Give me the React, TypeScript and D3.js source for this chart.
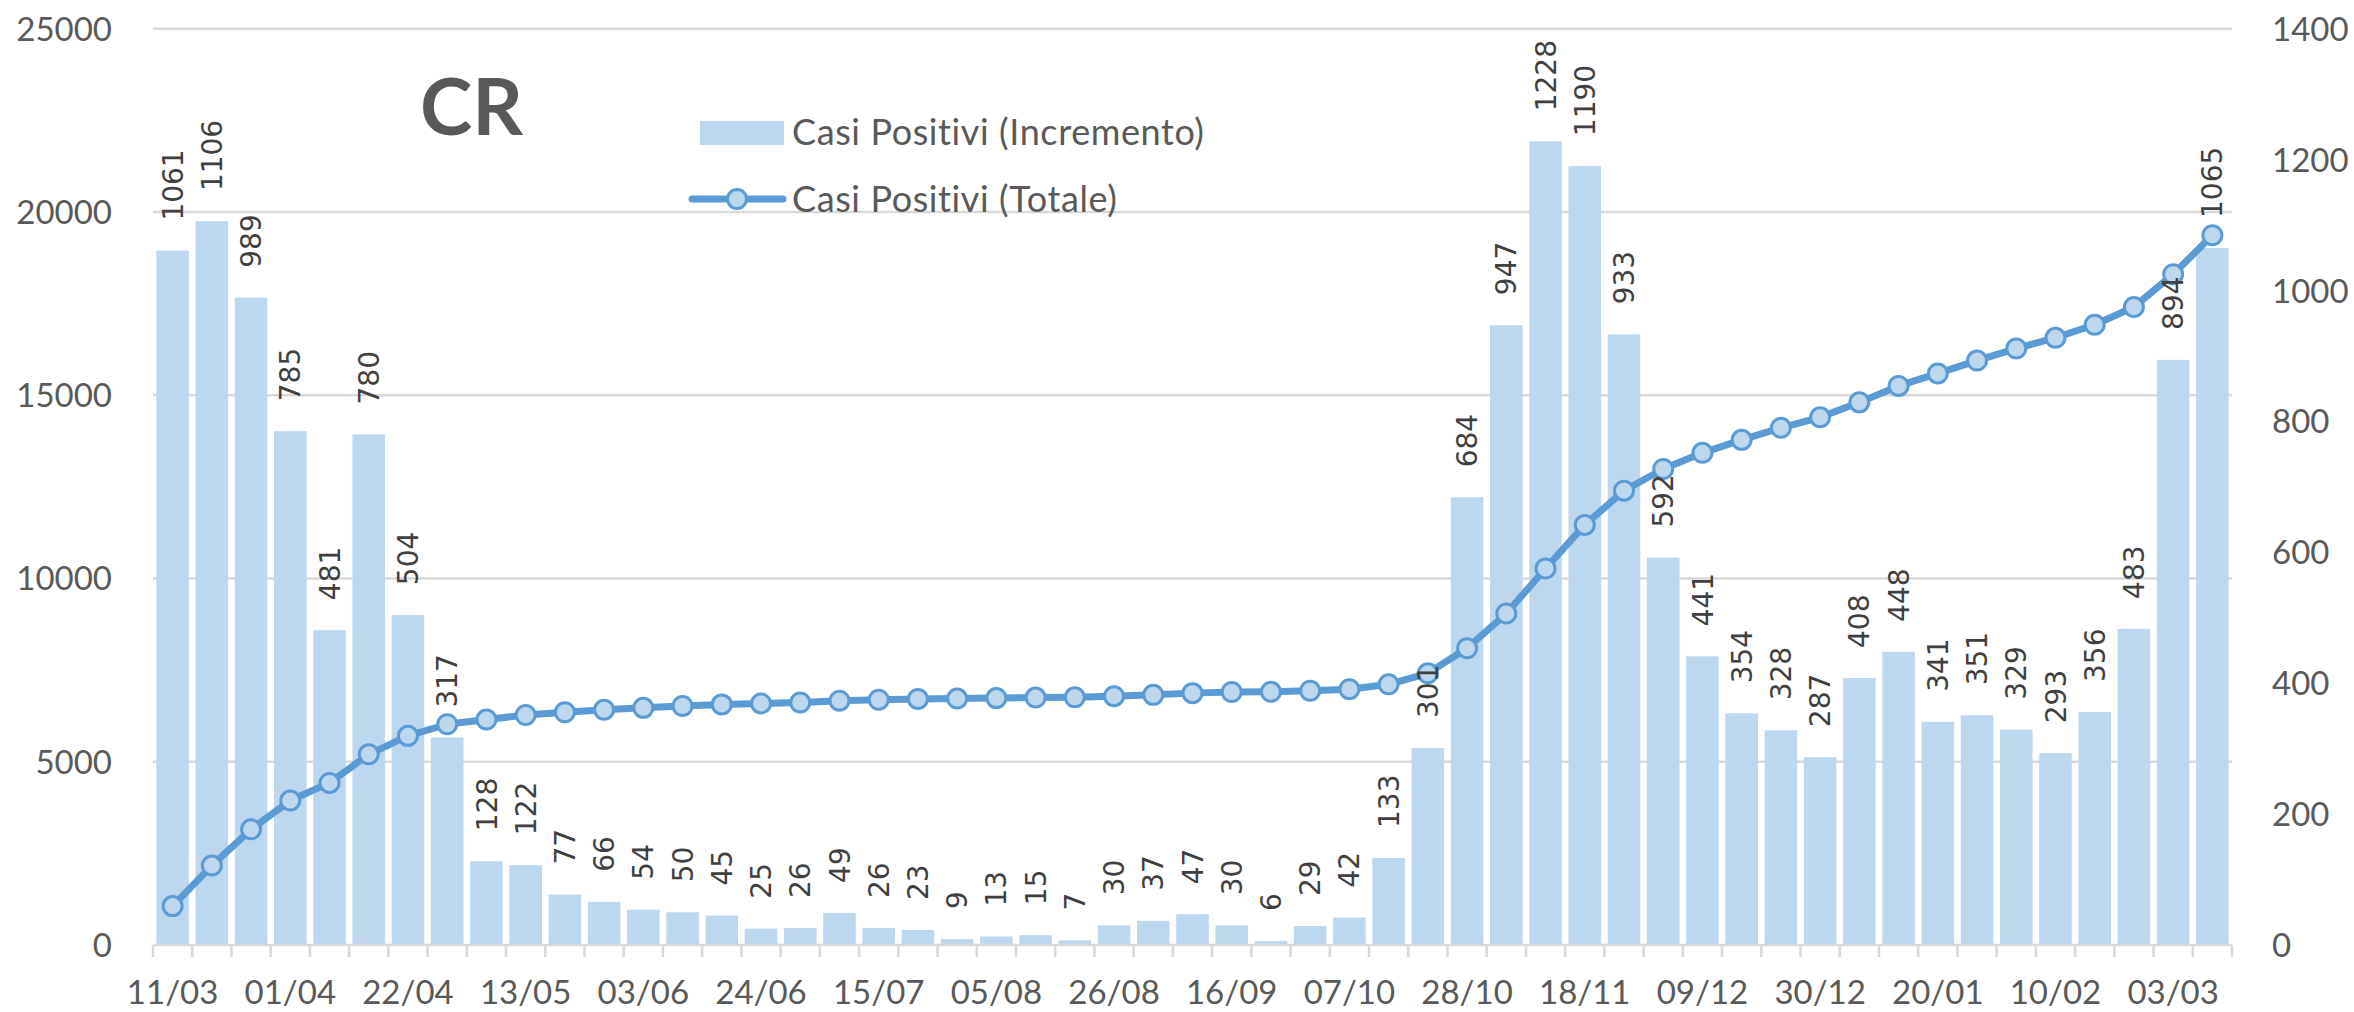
import * as React from 'react';
import * as d3 from 'd3';

// weekly dates, 11/03/2020 -> 10/03/2021
const weeks = [
	'11/03', '18/03', '25/03', '01/04', '08/04', '15/04', '22/04', '29/04', '06/05', '13/05',
	'20/05', '27/05', '03/06', '10/06', '17/06', '24/06', '01/07', '08/07', '15/07', '22/07',
	'29/07', '05/08', '12/08', '19/08', '26/08', '02/09', '09/09', '16/09', '23/09', '30/09',
	'07/10', '14/10', '21/10', '28/10', '04/11', '11/11', '18/11', '25/11', '02/12', '09/12',
	'16/12', '23/12', '30/12', '06/01', '13/01', '20/01', '27/01', '03/02', '10/02', '17/02',
	'24/02', '03/03', '10/03'
];

// Casi Positivi (Incremento) - right axis
const increments = [
	1061, 1106, 989, 785, 481, 780, 504, 317, 128, 122,
	77, 66, 54, 50, 45, 25, 26, 49, 26, 23,
	9, 13, 15, 7, 30, 37, 47, 30, 6, 29,
	42, 133, 301, 684, 947, 1228, 1190, 933, 592, 441,
	354, 328, 287, 408, 448, 341, 351, 329, 293, 356,
	483, 894, 1065
];

// Casi Positivi (Totale) - left axis
const totals = [
	1061, 2167, 3156, 3941, 4422, 5202, 5706, 6023, 6151, 6273,
	6350, 6416, 6470, 6520, 6565, 6590, 6616, 6665, 6691, 6714,
	6723, 6736, 6751, 6758, 6788, 6825, 6872, 6902, 6908, 6937,
	6979, 7112, 7413, 8097, 9044, 10272, 11462, 12395, 12987, 13428,
	13782, 14110, 14397, 14805, 15253, 15594, 15945, 16274, 16567, 16923,
	17406, 18300, 19365
];

const leftTicks = [0, 5000, 10000, 15000, 20000, 25000];
const rightTicks = [0, 200, 400, 600, 800, 1000, 1200, 1400];

const W = 2354, H = 1012;
const BAR = '#bdd7ee', LINE = '#5b9bd5', GRID = '#d9d9d9', TXT = '#595959';
const AXIS_FONT = 'Lato, "Open Sans", sans-serif';

const draw = (svgEl) => {
	const svg = d3.select(svgEl);
	svg.html('');

	const top = 28.7, bottom = 945, left = 153, right = 2232;

	const x = d3.scaleBand().domain(weeks).range([left, right]).paddingInner(0.17).paddingOuter(0.085);
	const step = (right - left) / weeks.length;
	const yL = d3.scaleLinear().domain([0, 25000]).range([bottom, top]);
	const yR = d3.scaleLinear().domain([0, 1400]).range([bottom, top]);

	// gridlines
	svg.append('g').selectAll('line')
		.data(leftTicks.slice(1))
		.enter().append('line')
		.attr('x1', left).attr('x2', right)
		.attr('y1', d => yL(d)).attr('y2', d => yL(d))
		.attr('stroke', GRID).attr('stroke-width', 2.5);

	// left axis labels
	svg.append('g').selectAll('text')
		.data(leftTicks)
		.enter().append('text')
		.attr('x', 112).attr('y', d => yL(d) + 12)
		.attr('text-anchor', 'end')
		.style('font-family', AXIS_FONT).style('font-size', '33px').attr('fill', TXT)
		.text(d => d);

	// right axis labels
	svg.append('g').selectAll('text')
		.data(rightTicks)
		.enter().append('text')
		.attr('x', 2272).attr('y', d => yR(d) + 12)
		.attr('text-anchor', 'start')
		.style('font-family', AXIS_FONT).style('font-size', '33px').attr('fill', TXT)
		.text(d => d);

	// bars
	svg.append('g').selectAll('rect')
		.data(increments)
		.enter().append('rect')
		.attr('x', (d, i) => x(weeks[i]))
		.attr('width', x.bandwidth())
		.attr('y', d => yR(d))
		.attr('height', d => bottom - yR(d))
		.attr('fill', BAR);

	// x axis + ticks
	const ax = svg.append('g');
	ax.append('line')
		.attr('x1', left).attr('x2', right).attr('y1', bottom).attr('y2', bottom)
		.attr('stroke', GRID).attr('stroke-width', 2.5);
	ax.selectAll('line.tick')
		.data(d3.range(weeks.length + 1))
		.enter().append('line')
		.attr('class', 'tick')
		.attr('x1', i => left + i * step).attr('x2', i => left + i * step)
		.attr('y1', bottom).attr('y2', bottom + 12)
		.attr('stroke', GRID).attr('stroke-width', 2.5);
	ax.selectAll('text')
		.data(weeks.filter((d, i) => i % 3 === 0))
		.enter().append('text')
		.attr('x', d => x(d) + x.bandwidth() / 2)
		.attr('y', 1004)
		.attr('text-anchor', 'middle')
		.style('font-family', AXIS_FONT).style('font-size', '33px').attr('fill', TXT)
		.text(d => d);

	// totals line
	const cx = (i) => x(weeks[i]) + x.bandwidth() / 2;
	const line = d3.line<number>()
		.x((d, i) => cx(i))
		.y(d => yL(d));
	svg.append('path')
		.datum(totals)
		.attr('d', line)
		.attr('fill', 'none')
		.attr('stroke', LINE)
		.attr('stroke-width', 7)
		.attr('stroke-linejoin', 'round')
		.attr('stroke-linecap', 'round');
	svg.append('g').selectAll('circle')
		.data(totals)
		.enter().append('circle')
		.attr('cx', (d, i) => cx(i))
		.attr('cy', d => yL(d))
		.attr('r', 9.5)
		.attr('fill', BAR)
		.attr('stroke', LINE)
		.attr('stroke-width', 3);

	// data labels, rotated
	svg.append('g').selectAll('text')
		.data(increments)
		.enter().append('text')
		.attr('transform', (d, i) => 'translate(' + cx(i) + ',' + (yR(d) - 30) + ') rotate(-90)')
		.attr('dy', '0.36em')
		.attr('text-anchor', 'start')
		.style('font-family', '"DejaVu Sans", sans-serif').style('font-size', '28px')
		.attr('fill', '#404040')
		.text(d => d);

	// title
	svg.append('text')
		.attr('x', 420).attr('y', 135)
		.style('font-family', AXIS_FONT).style('font-size', '79px').style('font-weight', 'bold')
		.attr('fill', TXT)
		.text('CR');

	// legend
	const lg = svg.append('g');
	lg.append('rect')
		.attr('x', 700).attr('y', 121).attr('width', 84).attr('height', 24)
		.attr('fill', BAR);
	lg.append('text')
		.attr('x', 792).attr('y', 145)
		.style('font-family', AXIS_FONT).style('font-size', '36px').style('letter-spacing', '0.6px')
		.attr('fill', TXT)
		.text('Casi Positivi (Incremento)');
	lg.append('line')
		.attr('x1', 692).attr('x2', 783).attr('y1', 199).attr('y2', 199)
		.attr('stroke', LINE).attr('stroke-width', 7).attr('stroke-linecap', 'round');
	lg.append('circle')
		.attr('cx', 737).attr('cy', 199).attr('r', 9.5)
		.attr('fill', BAR).attr('stroke', LINE).attr('stroke-width', 3);
	lg.append('text')
		.attr('x', 792).attr('y', 212)
		.style('font-family', AXIS_FONT).style('font-size', '36px').style('letter-spacing', '0.6px')
		.attr('fill', TXT)
		.text('Casi Positivi (Totale)');
};

const App = () => {
	const ref = React.useRef<SVGSVGElement>(null);

	React.useEffect(() => {
		if (ref.current) draw(ref.current);
	}, []);

	return (
		<svg
			ref={ref}
			width={W}
			height={H}
			style={{position: 'absolute', left: 0, top: 0, background: '#fff'}}
		/>
	);
};

export default App;
